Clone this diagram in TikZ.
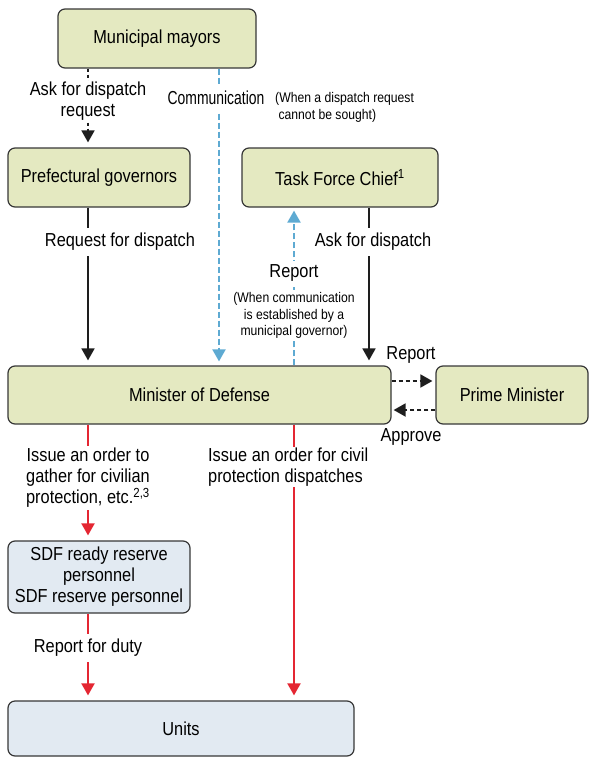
\documentclass[tikz,border=0pt]{standalone}
\usepackage{fontspec}
\setmainfont{Liberation Sans}[FakeStretch=0.87]
\newfontfamily\condfont{Liberation Sans}[FakeStretch=0.74]
\usetikzlibrary{arrows.meta}
\definecolor{greenf}{RGB}{228,233,193}
\definecolor{bluef}{RGB}{226,234,242}
\definecolor{bordc}{RGB}{55,55,55}
\definecolor{bluel}{RGB}{94,170,210}
\definecolor{redl}{RGB}{228,38,50}
\definecolor{blkl}{RGB}{30,30,30}
\newcommand\mainsz{\fontsize{18.8}{21}\selectfont}
\newcommand\smallsz{\fontsize{14}{16.5}\selectfont}
\tikzset{
  box/.style={draw=bordc, line width=1.2pt, rounded corners=7pt, inner sep=0pt, align=center, font=\mainsz},
  gbox/.style={box, fill=greenf},
  bbox/.style={box, fill=bluef},
  lbl/.style={fill=white, inner xsep=2pt, align=center, font=\mainsz},
  slbl/.style={fill=white, inner sep=2pt, align=center, font=\smallsz},
  tip/.style={-{Triangle[length=12pt,width=13pt]}},
  blkarrow/.style={tip, line width=1.8pt, draw=blkl},
  dotarrow/.style={blkarrow, dash pattern=on 3pt off 3pt},
  bluarrow/.style={tip, line width=2pt, draw=bluel, dash pattern=on 6pt off 3pt},
  redarrow/.style={tip, line width=2pt, draw=redl},
}
\begin{document}
\begin{tikzpicture}[x=1pt,y=-1pt]
\useasboundingbox (0,0) rectangle (589,758);
% boxes
\node[gbox, minimum width=198pt, minimum height=59pt] (mayors) at (157,38.5) {Municipal mayors};
\node[gbox, minimum width=182pt, minimum height=59pt] (gov) at (99,177.5) {Prefectural governors};
\node[gbox, minimum width=196pt, minimum height=59pt] (tfc) at (340,177.5) {Task Force Chief\textsuperscript{1}};
\node[gbox, minimum width=383pt, minimum height=58pt] (mod) at (199.5,395) {Minister of Defense};
\node[gbox, minimum width=152pt, minimum height=58pt] (pm) at (512,395) {Prime Minister};
\node[bbox, minimum width=182pt, minimum height=72pt] (sdf) at (99,577) {SDF ready reserve\\personnel\\SDF reserve personnel};
\node[bbox, minimum width=346pt, minimum height=55pt] (units) at (181,728.5) {Units};
% helper coordinates
\coordinate (xa) at (88,0);
\coordinate (xb) at (219,0);
\coordinate (xc) at (294,0);
\coordinate (xd) at (369,0);
\coordinate (ya) at (0,381);
\coordinate (yb) at (0,410);
% connectors
\draw[dotarrow, shorten >=5pt] (mayors.south -| xa) -- (gov.north -| xa);
\node[lbl, inner ysep=1pt] (l1) at (88,101.5) {Ask for dispatch\\request};
\draw[bluarrow, shorten >=4pt] (mayors.south -| xb) -- (mod.north -| xb);
\node[lbl, inner ysep=6pt, font=\condfont\mainsz] (l2) at (216,98) {Communication};
\node[font=\smallsz, anchor=west, align=left, inner sep=0pt] (l2b) at (275,107.5) {(When a dispatch request\\\ cannot be sought)};
\draw[blkarrow, shorten >=5pt] (gov.south -| xa) -- (mod.north -| xa);
\node[lbl, inner ysep=5pt] (l3) at (120,242) {Request for dispatch};
\draw[blkarrow, shorten >=5pt] (tfc.south -| xd) -- (mod.north -| xd);
\node[lbl, inner ysep=5pt] (l4) at (373,242) {Ask for dispatch};
\draw[bluarrow, shorten >=3pt] (mod.north -| xc) -- (tfc.south -| xc);
\node[lbl, inner ysep=4pt] (l5) at (294,273) {Report};
\node[slbl] (l5b) at (294,315.5) {(When communication\\is established by a\\municipal governor)};
\draw[dotarrow, dash pattern=on 4pt off 3pt, shorten >=3pt] (mod.east |- ya) -- (pm.west |- ya);
\node[font=\mainsz] (l6) at (411,355) {Report};
\draw[dotarrow, dash pattern=on 4pt off 3pt, shorten >=2pt] (pm.west |- yb) -- (mod.east |- yb);
\node[font=\mainsz] (l7) at (411,437) {Approve};
\draw[redarrow, shorten >=5pt] (mod.south -| xa) -- (sdf.north -| xa);
\node[lbl, inner ysep=2pt] (l8) at (88,478) {Issue an order to\\gather for civilian\\protection, etc.\textsuperscript{2,3}};
\draw[redarrow, shorten >=5pt] (mod.south -| xc) -- (units.north -| xc);
\node[lbl, inner ysep=1pt, align=left, anchor=west] (l9) at (206,467) {Issue an order for civil\\protection dispatches};
\draw[redarrow, shorten >=5pt] (sdf.south -| xa) -- (units.north -| xa);
\node[lbl, inner ysep=5pt] (l10) at (88,648) {Report for duty};
\end{tikzpicture}
\end{document}
